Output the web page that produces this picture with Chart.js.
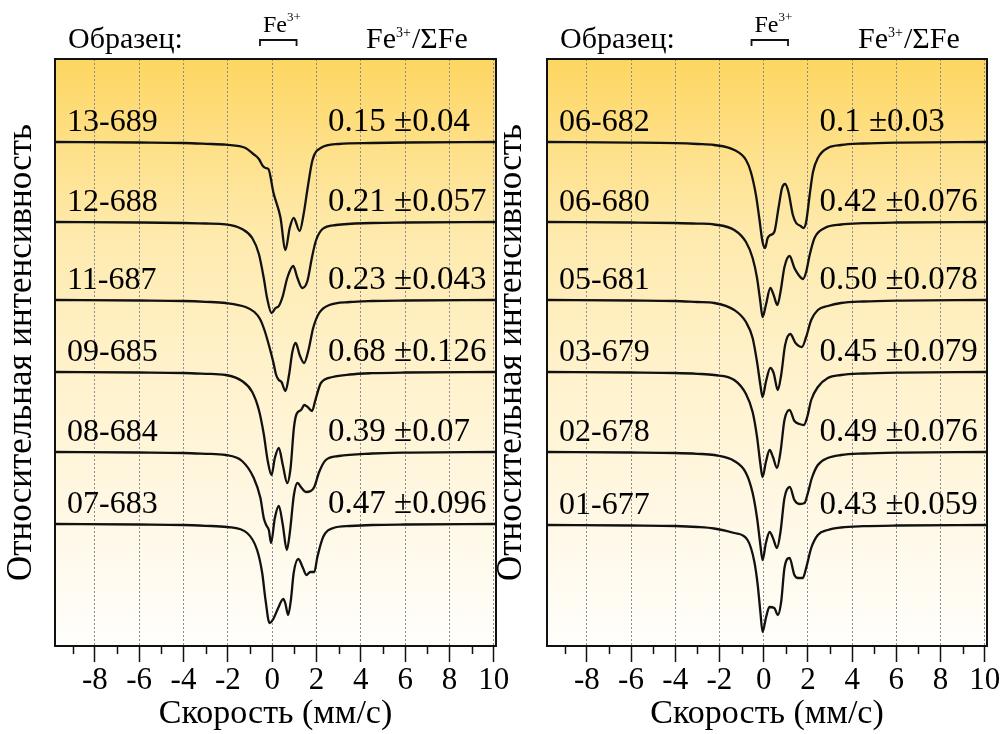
<!DOCTYPE html>
<html lang="ru">
<head>
<meta charset="UTF-8">
<title>Мёссбауэровские спектры</title>
<script src="https://cdn.jsdelivr.net/npm/chart.js"></script>
<style>
  body { margin: 0; background: #fff; }
  .wrap { position: relative; width: 1007px; height: 734px; }
  canvas { position: absolute; top: 0; }
  #left { left: 0; }
  #right { left: 490px; }
</style>
</head>
<body>
<div class="wrap">
  <canvas id="left" width="520" height="734"></canvas>
  <canvas id="right" width="517" height="734"></canvas>
</div>
<script>
// velocity (mm/s), depth of absorption below baseline (arb. units)
const sp13_689 = [[-9.8,0],[-6,0.5],[-4,1],[-3,1.8],[-2.1,2.7],[-1.2,6],[-0.85,12],[-0.6,17],[-0.42,24],[-0.3,26],[-0.17,27],[0.06,51],[0.37,75],[0.6,108],[0.79,86],[0.97,76],[1.24,89],[1.42,72],[1.6,46],[1.82,18],[2.19,6],[3,2],[4.5,1],[6,0.5],[10.1,0]];
const sp12_688 = [[-9.8,0],[-6,0.5],[-4,1],[-3,1.5],[-2.1,2.3],[-1.36,7],[-0.9,16],[-0.6,32],[-0.38,56],[-0.23,76],[-0.03,91],[0.15,86],[0.3,84],[0.48,74],[0.68,56],[0.95,44],[1.14,56],[1.36,66],[1.59,59],[1.79,36],[1.97,19],[2.27,7],[2.88,3],[4.5,1],[6,0.5],[10.1,0]];
const sp11_687 = [[-9.8,0],[-6,0.5],[-4,1],[-3,1.8],[-2.1,3],[-1.2,7],[-0.8,12],[-0.55,19],[-0.35,30],[-0.15,45],[0.05,62],[0.18,75],[0.3,80],[0.42,82],[0.6,91],[0.76,75],[0.91,52],[1.06,43],[1.24,55],[1.44,63],[1.64,50],[1.85,28],[2.12,13],[2.58,5],[3.5,2],[4.5,1],[6,0.5],[10.1,0]];
const sp09_685 = [[-9.8,0],[-6,0.5],[-4,1],[-3,1.8],[-2.1,3],[-1.36,9],[-0.9,20],[-0.6,38],[-0.38,62],[-0.2,89],[-0.03,103],[0.12,86],[0.3,76],[0.48,93],[0.68,111],[0.83,96],[0.98,56],[1.1,42],[1.3,38],[1.45,33],[1.6,35],[1.8,39],[1.95,28],[2.2,11],[2.73,5],[3.5,2.5],[4.5,1.2],[6,0.5],[10.1,0]];
const sp08_684 = [[-9.8,0],[-6,0.5],[-4,1],[-3,1.8],[-2.1,3],[-1.36,9],[-0.83,26],[-0.53,46],[-0.38,66],[-0.27,73],[-0.15,78],[-0.05,91],[0.12,66],[0.3,54],[0.48,73],[0.66,98],[0.8,80],[0.98,43],[1.14,31],[1.33,36],[1.52,40],[1.74,39],[1.9,35],[2.12,20],[2.42,8],[3,4],[4.5,1.5],[6,0.6],[10.1,0]];
const sp07_683 = [[-9.8,0],[-6,0.5],[-4,1],[-3,1.8],[-2.04,3],[-1.13,9],[-0.68,26],[-0.45,49],[-0.3,76],[-0.12,99],[0.05,95],[0.27,84],[0.5,75],[0.59,79],[0.72,91],[0.85,75],[0.97,49],[1.18,35],[1.39,44],[1.54,51],[1.72,48],[1.9,48],[2.04,33],[2.3,13],[2.76,4],[3.5,2],[4.5,1],[6,0.5],[10.1,0]];

const sp06_682 = [[-9.8,0],[-6,0.6],[-4,1.2],[-3,2],[-2.24,3],[-1.33,8],[-0.8,18],[-0.58,30],[-0.35,53],[-0.2,76],[-0.05,100],[0.06,106],[0.18,96],[0.3,93],[0.48,90],[0.67,66],[0.83,46],[0.97,42],[1.12,50],[1.32,73],[1.47,81],[1.67,84],[1.8,86],[1.92,80],[2.08,53],[2.23,30],[2.45,16],[2.9,6],[3.5,3],[4.5,1.5],[6,0.6],[10.1,0]];
const sp06_680 = [[-9.8,0],[-6,0.5],[-4,1],[-3,1.6],[-2.24,2.5],[-1.33,8],[-0.8,20],[-0.5,36],[-0.3,56],[-0.15,80],[-0.05,95],[0.1,83],[0.3,66],[0.45,73],[0.62,83],[0.76,70],[0.94,45],[1.17,34],[1.39,46],[1.58,53],[1.78,57],[1.92,50],[2.08,33],[2.3,16],[2.76,6],[3.5,2.5],[4.5,1.2],[6,0.5],[10.1,0]];
const sp05_681 = [[-9.8,0],[-6,0.5],[-4,1],[-3,2],[-2.24,3],[-1.33,10],[-0.8,22],[-0.5,38],[-0.3,62],[-0.15,85],[-0.05,97],[0.1,82],[0.3,68],[0.45,73],[0.64,90],[0.79,75],[0.97,45],[1.2,34],[1.44,43],[1.73,47],[1.92,37],[2.15,20],[2.45,10],[2.9,6],[3.5,3],[4.5,1.5],[6,0.6],[10.1,0]];
const sp03_679 = [[-9.8,0],[-6,0.5],[-4,1],[-3,1.8],[-2.24,3],[-1.33,8],[-0.8,22],[-0.5,40],[-0.3,65],[-0.15,92],[-0.05,105],[0.1,90],[0.27,78],[0.42,85],[0.6,96],[0.76,80],[0.94,48],[1.17,38],[1.39,49],[1.62,52],[1.82,53],[1.97,45],[2.15,28],[2.45,15],[2.9,6],[3.5,3],[4.5,1.5],[6,0.6],[10.1,0]];
const sp02_678 = [[-9.8,0],[-6,0.5],[-4,1],[-3,1.8],[-2.24,3],[-1.33,9],[-0.8,21],[-0.5,41],[-0.3,66],[-0.15,93],[-0.05,108],[0.1,91],[0.27,80],[0.42,86],[0.6,96],[0.76,80],[0.94,46],[1.18,35],[1.39,48],[1.62,52],[1.85,51],[2.0,41],[2.18,26],[2.45,13],[2.9,6],[3.5,3],[4.5,1.5],[6,0.6],[10.1,0]];
const sp01_677 = [[-9.8,0],[-6,0.5],[-4,1],[-3,2],[-2.24,3.5],[-1.33,8],[-0.73,15],[-0.42,37],[-0.27,60],[-0.15,87],[-0.05,107],[0.1,93],[0.26,82],[0.48,83],[0.64,90],[0.79,77],[0.94,43],[1.17,33],[1.39,50],[1.55,53],[1.77,53],[1.92,43],[2.15,23],[2.45,10],[2.9,5],[3.5,2.5],[4.5,1.2],[6,0.5],[10.1,0]];

const leftNames  = ['13-689', '12-688', '11-687', '09-685', '08-684', '07-683'];
const leftRatios = ['0.15 ±0.04', '0.21 ±0.057', '0.23 ±0.043', '0.68 ±0.126', '0.39 ±0.07', '0.47 ±0.096'];
const rightNames  = ['06-682', '06-680', '05-681', '03-679', '02-678', '01-677'];
const rightRatios = ['0.1 ±0.03', '0.42 ±0.076', '0.50 ±0.078', '0.45 ±0.079', '0.49 ±0.076', '0.43 ±0.059'];

// vertical stacking of the spectra (baseline levels)
const leftOffsets  = [504, 424, 346, 274, 194, 122];
const rightOffsets = [504, 424, 346, 274, 194, 121];

const majorTicks = [-8, -6, -4, -2, 0, 2, 4, 6, 8, 10];
const minorTicks = [-9, -7, -5, -3, -1, 1, 3, 5, 7, 9];
const fe3Range = [-0.55, 1.1];

const SERIF = "'Liberation Serif', 'Times New Roman', serif";

function drawFe3(ctx, x, yBase, size, supSize, supRise, tail) {
    ctx.font = size + 'px ' + SERIF;
    ctx.fillText('Fe', x, yBase);
    x += ctx.measureText('Fe').width;
    ctx.font = supSize + 'px ' + SERIF;
    ctx.fillText('3+', x, yBase - supRise);
    x += ctx.measureText('3+').width;
    if (tail) {
        ctx.font = size + 'px ' + SERIF;
        ctx.fillText(tail, x + 1, yBase);
    }
}

const decor = {
    id: 'decor',
    beforeDraw(chart) {
        const { ctx, chartArea: a } = chart;
        const g = ctx.createLinearGradient(0, a.top, 0, a.bottom);
        g.addColorStop(0, '#fdd661');
        g.addColorStop(0.15, '#fee088');
        g.addColorStop(0.3, '#feeaad');
        g.addColorStop(0.5, '#fff1c8');
        g.addColorStop(0.75, '#fff7e2');
        g.addColorStop(1, '#fffefb');
        ctx.save();
        ctx.fillStyle = g;
        ctx.fillRect(a.left, a.top, a.right - a.left, a.bottom - a.top);
        ctx.restore();
    },
    afterDraw(chart, args, opts) {
        const { ctx, chartArea: a, scales: { x, y } } = chart;
        ctx.save();
        // frame
        ctx.strokeStyle = '#111';
        ctx.lineWidth = 2;
        ctx.strokeRect(a.left, a.top, a.right - a.left, a.bottom - a.top);
        // minor ticks
        ctx.lineWidth = 1.5;
        ctx.beginPath();
        minorTicks.forEach(v => {
            const px = Math.round(x.getPixelForValue(v)) + 0.5;
            ctx.moveTo(px, a.bottom);
            ctx.lineTo(px, a.bottom + 8);
        });
        ctx.stroke();

        ctx.fillStyle = '#000';
        ctx.textBaseline = 'alphabetic';
        ctx.textAlign = 'left';
        // header
        ctx.font = '30px ' + SERIF;
        ctx.fillText('Образец:', a.left + 13, 48);
        drawFe3(ctx, a.left + 311, 48, 30, 14, 11, '/ΣFe');

        const bx0 = x.getPixelForValue(fe3Range[0]);
        const bx1 = x.getPixelForValue(fe3Range[1]);
        drawFe3(ctx, bx0 + 3, 32, 24, 13, 11, null);
        ctx.lineWidth = 1.8;
        ctx.beginPath();
        ctx.moveTo(bx0, 46);
        ctx.lineTo(bx0, 40);
        ctx.lineTo(bx1, 40);
        ctx.lineTo(bx1, 46);
        ctx.stroke();

        // sample names and Fe3+/ΣFe values
        opts.names.forEach((name, i) => {
            const py = y.getPixelForValue(opts.offsets[i]) - 11;
            ctx.font = '32px ' + SERIF;
            ctx.fillText(name, a.left + 12, py);
            ctx.font = '33px ' + SERIF;
            ctx.fillText(opts.ratios[i], x.getPixelForValue(2.52), py);
        });
        ctx.restore();
    }
};

function makePanel(id, spectra, names, ratios, offsets, padRight, titlePad) {
    const datasets = spectra.map((sp, i) => ({
        data: sp.map(p => ({ x: p[0], y: offsets[i] - p[1] })),
        borderColor: '#111',
        borderWidth: 2.3,
        pointRadius: 0,
        fill: false,
        cubicInterpolationMode: 'monotone'
    }));
    return new Chart(document.getElementById(id), {
        type: 'line',
        data: { datasets },
        plugins: [decor],
        options: {
            responsive: false,
            animation: false,
            events: [],
            layout: { padding: { left: 0, top: 59, right: padRight, bottom: 0 } },
            plugins: {
                legend: { display: false },
                tooltip: { enabled: false },
                decor: { names, ratios, offsets }
            },
            scales: {
                x: {
                    type: 'linear',
                    min: -9.8,
                    max: 10.1,
                    afterBuildTicks: s => { s.ticks = majorTicks.map(v => ({ value: v })); },
                    ticks: {
                        autoSkip: false,
                        maxRotation: 0,
                        padding: 4,
                        color: '#000',
                        font: { family: SERIF, size: 31, lineHeight: '29px' },
                        callback: v => String(v)
                    },
                    grid: {
                        color: '#8c8c8c',
                        lineWidth: 1,
                        tickColor: '#111',
                        tickWidth: 1.5,
                        tickLength: 16
                    },
                    border: { display: false, dash: [2, 2] },
                    title: {
                        display: true,
                        text: 'Скорость (мм/с)',
                        color: '#000',
                        font: { family: SERIF, size: 34, lineHeight: '30px' },
                        padding: { top: 0, bottom: 5 }
                    }
                },
                y: {
                    type: 'linear',
                    min: 0,
                    max: 587,
                    ticks: { display: false },
                    grid: { display: false, drawTicks: false },
                    border: { display: false },
                    title: {
                        display: true,
                        text: 'Относительная интенсивность',
                        color: '#000',
                        font: { family: SERIF, size: 35, lineHeight: '32px' },
                        padding: titlePad
                    }
                }
            }
        }
    });
}

makePanel('left', [sp13_689, sp12_688, sp11_687, sp09_685, sp08_684, sp07_683],
    leftNames, leftRatios, leftOffsets, 24, { top: 6, bottom: 17 });
makePanel('right', [sp06_682, sp06_680, sp05_681, sp03_679, sp02_678, sp01_677],
    rightNames, rightRatios, rightOffsets, 20, { top: 6, bottom: 19 });
</script>
</body>
</html>
